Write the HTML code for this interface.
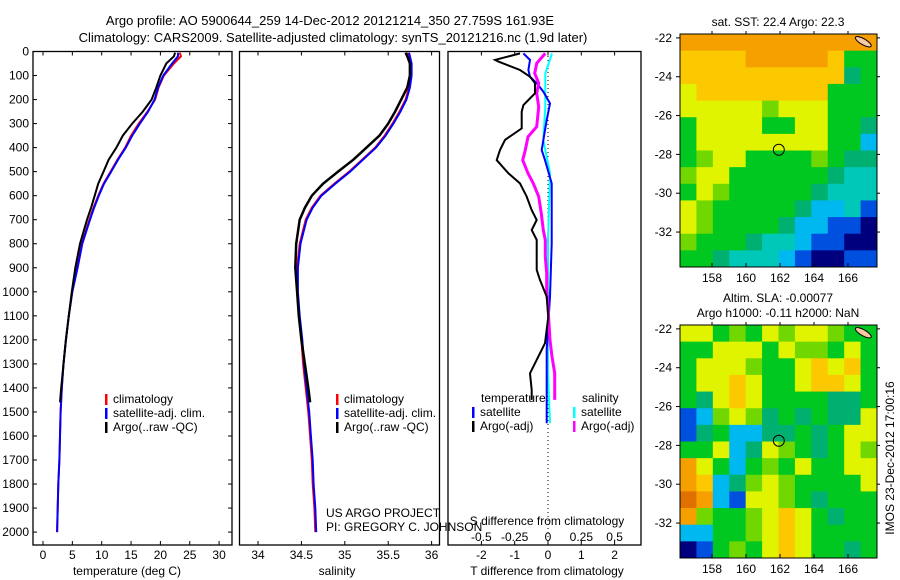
<!DOCTYPE html>
<html><head><meta charset="utf-8"><style>
body{margin:0;background:#fff}
svg{display:block;font-family:"Liberation Sans",sans-serif;font-size:12px}
</style></head><body>
<svg id="s" width="900" height="580" viewBox="0 0 900 580">
<text x="330" y="25" text-anchor="middle" font-size="13">Argo profile: AO 5900644_259 14-Dec-2012 20121214_350 27.759S 161.93E</text>
<text x="333" y="42" text-anchor="middle" font-size="13">Climatology: CARS2009. Satellite-adjusted climatology: synTS_20121216.nc (1.9d later)</text>
<g id="g"></g>
</svg>
<script>
// ---- data ----
const tDepth=[5,20,50,100,150,200,250,300,350,400,450,500,550,600,650,700,800,900,1000,1100,1200,1300,1400,1460];
const tArgo=[22.5,22.3,21.0,20.0,19.3,18.5,17.0,15.2,13.6,12.5,11.2,10.3,9.4,8.8,8.2,7.5,6.3,5.5,4.9,4.4,3.9,3.5,3.1,2.9];
const cDepth=[5,20,50,100,150,200,250,300,350,400,450,500,550,600,650,700,800,900,1000,1100,1200,1300,1400,1500,1600,1700,1800,1900,2000];
const tClim=[23.3,23.5,22.3,20.6,19.7,19.1,17.8,16.3,15.0,14.0,12.7,11.5,10.3,9.4,8.6,7.9,6.6,5.8,5.0,4.4,3.9,3.5,3.2,3.0,2.9,2.8,2.6,2.5,2.4];
const tSat=[23.0,23.0,22.0,20.5,19.6,19.0,17.9,16.5,15.2,14.1,12.8,11.6,10.4,9.5,8.7,8.0,6.7,5.9,5.0,4.4,3.9,3.5,3.2,3.0,2.9,2.8,2.6,2.5,2.4];
const sArgo=[35.7,35.72,35.75,35.75,35.72,35.65,35.58,35.5,35.4,35.25,35.1,34.92,34.75,34.62,34.54,34.48,34.44,34.43,34.45,34.47,34.5,34.54,34.58,34.6];
const sClim=[35.72,35.74,35.76,35.76,35.74,35.7,35.63,35.55,35.46,35.35,35.2,35.05,34.88,34.72,34.62,34.55,34.48,34.45,34.45,34.47,34.5,34.52,34.55,34.58,34.6,34.62,34.63,34.65,34.66];
const sSat=[35.74,35.75,35.77,35.77,35.75,35.71,35.64,35.56,35.47,35.36,35.21,35.06,34.89,34.73,34.63,34.56,34.49,34.46,34.46,34.48,34.51,34.53,34.56,34.59,34.61,34.63,34.64,34.66,34.67];
const dTDepth=[8,35,42,77,105,132,174,202,223,250,320,368,410,452,507,549,604,660,701,743,784,909,951,1020,1104,1214,1339,1409,1450];
const dTArgo=[-0.84,-1.59,-1.49,-0.84,-0.54,-0.39,-0.39,-0.59,-0.74,-0.79,-0.79,-1.29,-1.44,-1.54,-1.19,-0.84,-0.64,-0.49,-0.34,-0.49,-0.34,-0.34,-0.24,-0.04,0.01,-0.09,-0.54,-0.49,-0.49];
const dSDepth=[8,49,91,132,174,230,313,355,410,452,507,549,604,674,743,784,854,923,993,1062,1201,1270,1339,1409,1450];
const dSArgo=[-0.02,-0.085,-0.1,-0.07,-0.085,-0.07,-0.085,-0.15,-0.17,-0.19,-0.15,-0.11,-0.07,-0.05,-0.035,-0.02,-0.02,-0.01,-0.01,0,0.015,0.03,0.05,0.05,0.05];
const dTSDepth=[8,35,77,105,132,167,216,285,410,452,549,800,1020,1240,1547];
const dTSat=[-0.74,-0.54,-0.59,-0.54,-0.34,-0.14,0.06,-0.04,-0.19,-0.09,0.11,0.11,0.06,-0.04,-0.04];
const dSSDepth=[8,91,230,368,507,784,1062,1339,1547];
const dSSat=[0.03,-0.02,-0.02,-0.035,0.015,0,0,0,0.015];
const depthTicks=[0,100,200,300,400,500,600,700,800,900,1000,1100,1200,1300,1400,1500,1600,1700,1800,1900,2000];
const tTicks=[0,5,10,15,20,25,30];
const sTicks=[34,34.5,35,35.5,36];
const dTTicks=[-2,-1,0,1,2];
const dSTicks=[-0.5,-0.25,0,0.25,0.5];
const lonTicks=[158,160,162,164,166];
const latTicks=[-22,-24,-26,-28,-30,-32];
const sstGrid=["rrrrrrrrrrrr","oooorrrrrogg","ooooooooootg","yooooooooggg","yyyyyhyyyggg","gyyyyggyyggt","gyyyyyyyyggl","ghyygggghgtt","hyyggggggtcc","gyhgggggtccc","yhgggggtllcb","yhggggtllbbd","hgggtcclbbdd","ggtccclbddbb"];
const slaGrid=["yyghgyhyyhgg","ggyyygyhhgyg","gyyyhggyoyog","gyyoyggyooyg","gtyoyggggttg","blhyhtgtgtty","btgllttgtgyy","ggyltyhgtgyh","ryglghgyggyy","rolthyhggggy","Rrlbyyhgtggg","rhgghyoygtgg","llgghyoygggg","dbghgyoyggtg"];
// ---- scales ----
const yD=d=>51.5+d*0.2403;
const xT=v=>43+v*5.87;
const xS=v=>258+(v-34)*86.8;
const xdT=v=>548+v*33.3;
const xdS=v=>548+v*133.3;
const lonX=l=>712+(l-158)*17;
const g=document.getElementById('g');
const NS='http://www.w3.org/2000/svg';
function mk(tag,at,txt){const e=document.createElementNS(NS,tag);for(const k in at)e.setAttribute(k,at[k]);if(txt!==undefined)e.textContent=txt;g.appendChild(e);return e;}
function line(xs,ds,xf,col,w,name){
  const p=mk('polyline',{points:xs.map((v,i)=>xf(v).toFixed(1)+','+yD(ds[i]).toFixed(1)).join(' '),fill:'none',stroke:col,'stroke-width':w});
  
  
}
function frame(x0,x1,name){
  const r=mk('rect',{x:x0,y:51.5,width:x1-x0,height:493.5,fill:'none',stroke:'#000','stroke-width':1.3});
  
  
}
frame(33,232,'temperature-panel');frame(239.5,439.5,'salinity-panel');frame(448,641,'difference-panel');
depthTicks.forEach(d=>{
  mk('line',{x1:33,x2:37,y1:yD(d),y2:yD(d),stroke:'#000'});mk('line',{x1:228,x2:232,y1:yD(d),y2:yD(d),stroke:'#000'});
  const t=mk('text',{x:29,y:yD(d)+4,'text-anchor':'end'},d);
  
  
});
function xticks(arr,xf,y,top,bot){arr.forEach(v=>{mk('line',{x1:xf(v),x2:xf(v),y1:bot,y2:bot-4,stroke:'#000'});mk('line',{x1:xf(v),x2:xf(v),y1:top,y2:top+4,stroke:'#000'});
  const t=mk('text',{x:xf(v),y:y,'text-anchor':'middle'},v);
  
  });}
xticks(tTicks,xT,559,51.5,545);xticks(sTicks,xS,559,51.5,545);xticks(dTTicks,xdT,559,51.5,545);
dSTicks.forEach(v=>{const t=mk('text',{x:xdS(v),y:541,'text-anchor':'middle'},v);
  
  });
let t;
t=mk('text',{x:127,y:575,'text-anchor':'middle'},'temperature (deg C)');
t=mk('text',{x:337,y:575,'text-anchor':'middle'},'salinity');
t=mk('text',{x:547,y:575,'text-anchor':'middle'},'T difference from climatology');
t=mk('text',{x:547,y:525,'text-anchor':'middle'},'S difference from climatology');
t=mk('text',{x:326,y:517},'US ARGO PROJECT');
t=mk('text',{x:326,y:531},'PI: GREGORY C. JOHNSON');
// zero dotted line
mk('line',{x1:548,x2:548,y1:52,y2:545,stroke:'#000','stroke-dasharray':'1,3'});
// profiles
line(tClim,cDepth,xT,'#f00',2,'temp-climatology-line');line(tSat,cDepth,xT,'#00f',2,'temp-satellite-line');line(tArgo,tDepth,xT,'#000',2,'temp-argo-line');
line(sClim,cDepth,xS,'#f00',2,'sal-climatology-line');line(sSat,cDepth,xS,'#00f',2,'sal-satellite-line');line(sArgo,tDepth,xS,'#000',2.5,'sal-argo-line');
line(dSSat,dSSDepth,xdS,'#0ff',2,'s-diff-satellite-line');line(dTSat,dTSDepth,xdT,'#00f',2,'t-diff-satellite-line');
line(dSArgo,dSDepth,xdS,'#f0f',3,'s-diff-argo-line');line(dTArgo,dTDepth,xdT,'#000',2,'t-diff-argo-line');
// legends
function leg(x,y,col,txt,name){mk('rect',{x:x,y:y-9,width:2.5,height:11,fill:col});const e=mk('text',{x:x+8,y:y},txt);}
leg(105,403,'#f00','climatology','legend-climatology');leg(105,417,'#00f','satellite-adj. clim.','legend-satellite');leg(105,431,'#000','Argo(..raw -QC)','legend-argo');
leg(336,403,'#f00','climatology','legend-climatology-sal');leg(336,417,'#00f','satellite-adj. clim.','legend-satellite-sal');leg(336,431,'#000','Argo(..raw -QC)','legend-argo-sal');
t=mk('text',{x:481,y:402},'temperature');
t=mk('text',{x:582,y:402},'salinity');
leg(472,416,'#00f','satellite','legend-t-satellite');leg(472,430,'#000','Argo(-adj)','legend-t-argo');
leg(573,416,'#0ff','satellite','legend-s-satellite');leg(573,430,'#f0f','Argo(-adj)','legend-s-argo');
// maps
const pal={d:'#00007f',b:'#0050e0',l:'#00b8f0',c:'#00c8b8',t:'#00b070',g:'#00c820',h:'#70d800',y:'#e0f400',o:'#fcc800',r:'#f6a000',R:'#e07000'};
function map(grid,y0,name){
  const x0=680,x1=877,y1=y0+233,lat0=-21.8,latS=(233)/12;
  const cw=(x1-x0)/12,ch=(y1-y0)/grid.length;
  const lat2y=la=>y0+(lat0-la)*(233/12);
  grid.forEach((row,r)=>{[...row].forEach((c,k)=>{mk('rect',{x:x0+k*cw,y:y0+r*ch,width:cw+0.5,height:ch+0.5,fill:pal[c]});});});
  const fr=mk('rect',{x:x0,y:y0,width:x1-x0,height:y1-y0,fill:'none',stroke:'#000'});
  
  
  mk('ellipse',{cx:lonX(166.9),cy:lat2y(-22.2),rx:9,ry:3,fill:'#f8c8a0',stroke:'#000',transform:`rotate(30 ${lonX(166.9)} ${lat2y(-22.2)})`});
  const c=mk('circle',{cx:lonX(161.93),cy:lat2y(-27.76),r:5.5,fill:'none',stroke:'#000'});
  
  
  lonTicks.forEach(l=>{mk('line',{x1:lonX(l),x2:lonX(l),y1:y1,y2:y1-4,stroke:'#000'});mk('line',{x1:lonX(l),x2:lonX(l),y1:y0,y2:y0-3,stroke:'#000'});
    const e=mk('text',{x:lonX(l),y:y1+15,'text-anchor':'middle'},l);});
  latTicks.forEach(l=>{mk('line',{x1:x0,x2:x0-4,y1:lat2y(l),y2:lat2y(l),stroke:'#000'});mk('line',{x1:x1,x2:x1+3,y1:lat2y(l),y2:lat2y(l),stroke:'#000'});
    const e=mk('text',{x:x0-8,y:lat2y(l)+4,'text-anchor':'end'},l);});
}
map(sstGrid,34,'sst-map');map(slaGrid,325,'sla-map');
t=mk('text',{x:778,y:26,'text-anchor':'middle'},'sat. SST: 22.4 Argo: 22.3');
t=mk('text',{x:778,y:302,'text-anchor':'middle'},'Altim. SLA: -0.00077');
t=mk('text',{x:778,y:317,'text-anchor':'middle'},'Argo h1000: -0.11 h2000: NaN');
t=mk('text',{x:894,y:458,'text-anchor':'middle',transform:'rotate(-90 894 458)'},'IMOS 23-Dec-2012 17:00:16');
</script>
</body></html>
